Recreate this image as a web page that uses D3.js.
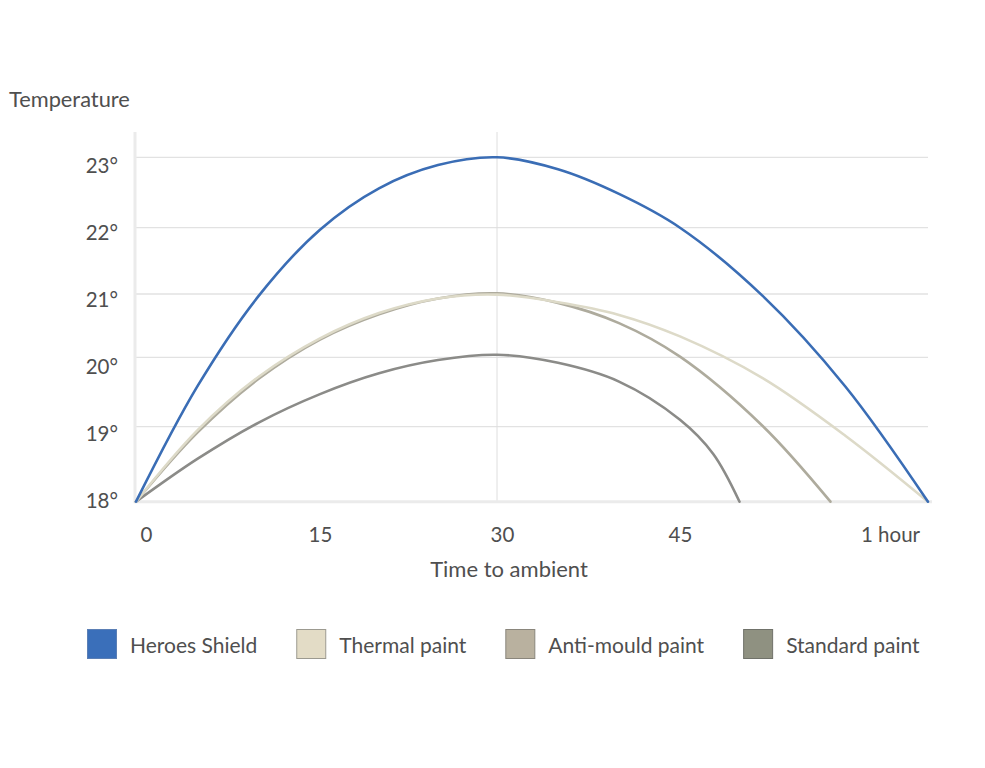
<!DOCTYPE html>
<html>
<head>
<meta charset="utf-8">
<script src="https://cdn.jsdelivr.net/npm/d3@7"></script>
<style>
  body { margin: 0; background: #fff; }
</style>
</head>
<body>
<div id="chart"></div>
<script>
// series names + colours
var seriesNames = ["Heroes Shield", "Thermal paint", "Anti-mould paint", "Standard paint"];
var lineColors = ["#3a6db5", "#dddac8", "#aeab9d", "#8b8b88"];
var swatchFill = ["#3a6fba", "#e3dcc6", "#b9b19f", "#8f9181"];
var swatchStroke = ["#5b7fb5", "#9c9a90", "#8a867c", "#70726a"];

// [minutes, temperature °C]
var heroesShield = [[0,18],[5,19.58],[10,20.97],[15,21.97],[20,22.56],[25,22.89],[30,23],[35,22.83],[40,22.48],[45,22.0],[50,20.97],[55,19.58],[60,18]];
var thermalPaint = [[0,18],[5,18.95],[10,19.72],[15,20.3],[20,20.7],[25,20.93],[30,20.99],[35,20.87],[40,20.67],[45,20.33],[50,19.7],[55,18.88],[60,18]];
var antiMouldPaint = [[0,18],[5,18.92],[10,19.69],[15,20.28],[20,20.68],[25,20.93],[30,21.01],[35,20.86],[40,20.54],[45,20.01],[50,19.01],[54.1,18]];
var standardPaint = [[0,18],[5,18.57],[10,19.06],[15,19.47],[20,19.77],[25,19.96],[30,20.04],[35,19.92],[40,19.65],[45,19.1],[47,18.64],[48.6,18]];

// axis ticks
var yTicks = [18, 19, 20, 21, 22, 23];
var xTicks = [0, 15, 30, 45, 60];
var xTickLabels = ["0", "15", "30", "45", "1 hour"];

var allSeries = [heroesShield, thermalPaint, antiMouldPaint, standardPaint];

var width = 985, height = 768;
var font = "Lato, 'Noto Sans', sans-serif";
var textColor = "#4f4f4f";

var svg = d3.select("#chart").append("svg")
  .attr("width", width)
  .attr("height", height)
  .attr("font-family", font);

// the grid in the original is hand spaced, so piecewise scales
var x = d3.scaleLinear()
  .domain([0, 15, 30, 45, 60])
  .range([136, 320, 497, 680, 928]);

var y = d3.scaleLinear()
  .domain([18, 19, 20, 21, 22, 23])
  .range([501.7, 426.7, 357.3, 294, 227.7, 157.3]);

// tick labels sit evenly spaced
var yLabel = d3.scaleLinear()
  .domain([18, 23])
  .range([500.5, 166]);

// horizontal grid
svg.append("g")
  .selectAll("line")
  .data(yTicks.slice(1))
  .join("line")
  .attr("x1", 136)
  .attr("x2", 928)
  .attr("y1", d => y(d))
  .attr("y2", d => y(d))
  .attr("stroke", "#e2e2e2")
  .attr("stroke-width", 1.3);

// vertical line at 30
svg.append("line")
  .attr("x1", x(30)).attr("x2", x(30))
  .attr("y1", 132).attr("y2", y(18))
  .attr("stroke", "#dedede")
  .attr("stroke-width", 1);

// axis lines
svg.append("line")
  .attr("x1", 135).attr("x2", 932)
  .attr("y1", y(18)).attr("y2", y(18))
  .attr("stroke", "#ebebeb")
  .attr("stroke-width", 3);

svg.append("line")
  .attr("x1", 135).attr("x2", 135)
  .attr("y1", 132).attr("y2", y(18) + 1.5)
  .attr("stroke", "#ebebeb")
  .attr("stroke-width", 3);

// curves
var line = d3.line()
  .x(d => x(d[0]))
  .y(d => y(d[1]))
  .curve(d3.curveCatmullRom.alpha(0.5));

svg.append("g")
  .selectAll("path")
  .data(allSeries.map((s, i) => ({s: s, i: i})).reverse())
  .join("path")
  .attr("d", d => line(d.s))
  .attr("fill", "none")
  .attr("stroke", d => lineColors[d.i])
  .attr("stroke-width", 2.6)
  .attr("stroke-linecap", "round");

// x axis
var xAxis = svg.append("g")
  .attr("transform", `translate(0,${y(18)})`)
  .call(d3.axisBottom(x).tickValues(xTicks).tickSize(0).tickPadding(26)
    .tickFormat((d, i) => xTickLabels[i]))
  .call(g => g.select(".domain").remove());

var xLabelShift = [10, 0, 5, 0, -38];
xAxis.selectAll(".tick text")
  .attr("font-family", font)
  .attr("font-size", "20.5px")
  .attr("fill", textColor)
  .attr("dx", (d, i) => xLabelShift[i]);

// y axis
svg.append("g")
  .attr("transform", "translate(118,0)")
  .call(d3.axisLeft(yLabel).tickValues(yTicks).tickSize(0).tickPadding(0)
    .tickFormat(d => d + "°"))
  .call(g => g.select(".domain").remove())
  .call(g => g.selectAll(".tick text")
    .attr("font-family", font)
    .attr("font-size", "20.5px")
    .attr("fill", textColor));

// axis titles
svg.append("text")
  .attr("x", 9)
  .attr("y", 107)
  .attr("font-size", "21.8px")
  .attr("fill", textColor)
  .text("Temperature");

svg.append("text")
  .attr("x", 509)
  .attr("y", 577)
  .attr("text-anchor", "middle")
  .attr("font-size", "22px")
  .attr("fill", textColor)
  .text("Time to ambient");

// legend
var legend = svg.append("g").attr("transform", "translate(87,629)");
var lx = 0;
seriesNames.forEach(function (name, i) {
  var item = legend.append("g").attr("transform", `translate(${lx},0)`);
  item.append("rect")
    .attr("x", 0.5).attr("y", 0.5)
    .attr("width", 29).attr("height", 29)
    .attr("fill", swatchFill[i])
    .attr("stroke", swatchStroke[i])
    .attr("stroke-width", 1);
  var t = item.append("text")
    .attr("x", 43)
    .attr("y", 17)
    .attr("dy", "0.35em")
    .attr("font-size", "21px")
    .attr("fill", textColor)
    .text(name);
  lx += 43 + t.node().getComputedTextLength() + 39;
});
</script>
</body>
</html>
